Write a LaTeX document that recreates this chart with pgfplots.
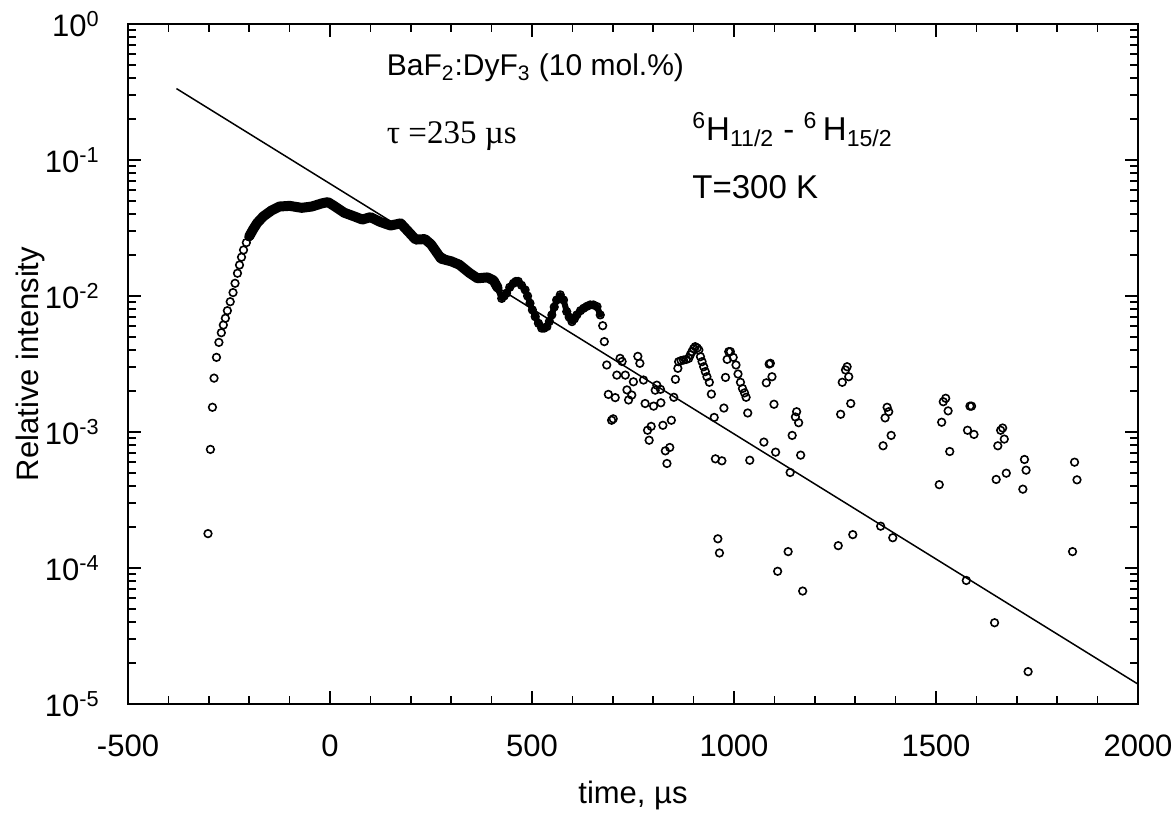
\documentclass[border=0pt]{standalone}
\usepackage{pgfplots}
\pgfplotsset{compat=1.18}
\usepackage{fontspec}
\setmainfont{Liberation Sans}
\newfontfamily\timesfont{Liberation Serif}

% rising edge, open circles
\pgfplotstableread{
x y
-302 1.79e-4
-296 7.45e-4
-291 1.52e-3
-287 2.49e-3
-281 3.54e-3
-275 4.56e-3
-269 5.37e-3
-264 6.12e-3
-259 6.86e-3
-254 7.8e-3
-247 9.08e-3
-240 1.06e-2
-235 1.24e-2
-229 1.47e-2
-224 1.69e-2
-219 1.93e-2
-214 2.18e-2
-207 2.47e-2
-200 2.74e-2
}\rising

% dense part, drawn as a solid band of overlapping circles
\pgfplotstableread{
x y
-200 2.74e-2
-190 3.1e-2
-180 3.45e-2
-165 3.85e-2
-145 4.25e-2
-125 4.55e-2
-100 4.6e-2
-70 4.45e-2
-45 4.55e-2
-20 4.8e-2
-5 4.9e-2
10 4.6e-2
35 4.1e-2
60 3.85e-2
80 3.65e-2
100 3.8e-2
125 3.5e-2
150 3.3e-2
175 3.42e-2
195 2.95e-2
212 2.6e-2
235 2.62e-2
250 2.4e-2
275 1.88e-2
300 1.8e-2
320 1.7e-2
345 1.48e-2
365 1.35e-2
390 1.37e-2
405 1.3e-2
415 1.15e-2
}\band

% oscillations after 415 us
\pgfplotstableread{
x y
415 1.15e-2
425 9.6e-3
431 1.0e-2
437 1.05e-2
445 1.16e-2
454 1.24e-2
460 1.28e-2
466 1.28e-2
474 1.2e-2
483 1.11e-2
489 1.0e-2
495 8.85e-3
501 7.9e-3
508 7.05e-3
516 6.3e-3
524 5.8e-3
530 5.8e-3
537 5.96e-3
543 6.5e-3
549 7.26e-3
555 8.3e-3
561 9.35e-3
570 1.02e-2
578 9.35e-3
586 7.68e-3
592 7.0e-3
599 6.48e-3
605 6.8e-3
611 7.26e-3
620 7.8e-3
628 8.13e-3
636 8.4e-3
644 8.6e-3
652 8.6e-3
661 8.36e-3
669 7.26e-3
}\wave

% scattered tail
\pgfplotstableread{
x y
675 6.05e-3
679 4.62e-3
685 3.11e-3
689 1.89e-3
697 1.22e-3
701 1.25e-3
706 1.79e-3
710 2.62e-3
718 3.48e-3
723 3.3e-3
731 2.62e-3
735 2.04e-3
739 1.72e-3
747 1.87e-3
751 2.34e-3
762 3.6e-3
767 3.2e-3
776 2.41e-3
780 1.62e-3
786 1.03e-3
790 8.7e-4
795 1.1e-3
801 1.55e-3
805 2.03e-3
809 2.21e-3
818 2.06e-3
819 1.64e-3
824 1.12e-3
830 7.27e-4
834 5.87e-4
841 7.7e-4
845 1.22e-3
851 1.8e-3
855 2.44e-3
861 2.94e-3
863 3.29e-3
869 3.35e-3
875 3.38e-3
882 3.42e-3
888 3.48e-3
892 3.7e-3
896 3.9e-3
900 4.1e-3
904 4.24e-3
909 4.15e-3
913 4.01e-3
917 3.58e-3
921 3.29e-3
925 3.02e-3
929 2.78e-3
933 2.55e-3
939 2.32e-3
944 1.9e-3
951 1.28e-3
954 6.35e-4
960 1.64e-4
964 1.29e-4
970 6.14e-4
975 1.5e-3
979 2.52e-3
983 3.42e-3
987 3.9e-3
991 3.9e-3
998 3.54e-3
1005 3.11e-3
1010 2.67e-3
1016 2.32e-3
1021 2.09e-3
1026 1.94e-3
1030 1.8e-3
1034 1.38e-3
1039 6.2e-4
1074 8.43e-4
1080 2.3e-3
1087 3.16e-3
1090 3.2e-3
1094 2.55e-3
1099 1.6e-3
1103 7.11e-4
1108 9.46e-5
1134 1.32e-4
1139 5.04e-4
1144 9.44e-4
1152 1.29e-3
1155 1.41e-3
1160 1.17e-3
1165 6.76e-4
1170 6.77e-5
1258 1.46e-4
1264 1.35e-3
1268 2.32e-3
1276 2.86e-3
1280 3.02e-3
1284 2.55e-3
1289 1.62e-3
1294 1.76e-4
1363 2.03e-4
1369 7.92e-4
1374 1.27e-3
1379 1.52e-3
1383 1.41e-3
1389 9.44e-4
1393 1.67e-4
1508 4.1e-4
1514 1.18e-3
1518 1.67e-3
1524 1.77e-3
1530 1.43e-3
1534 7.19e-4
1575 8.1e-5
1578 1.03e-3
1584 1.55e-3
1588 1.55e-3
1594 9.6e-4
1645 3.96e-5
1649 4.48e-4
1653 7.92e-4
1660 1.03e-3
1665 1.07e-3
1669 8.87e-4
1674 4.98e-4
1715 3.8e-4
1719 6.28e-4
1723 5.24e-4
1728 1.73e-5
1838 1.32e-4
1843 6.0e-4
1849 4.45e-4
}\tail

\begin{document}
\fontsize{15}{18}\selectfont
\begin{tikzpicture}
\begin{axis}[
  at={(0pt,0pt)}, anchor=south west,
  scale only axis,
  width=505pt, height=340pt,
  xmin=-500, xmax=2000,
  ymode=log, ymin=1e-5, ymax=1,
  xtick={-500,0,500,1000,1500,2000},
  xticklabels={-500,0,500,1000,1500,2000},
  minor x tick num=4,
  ytick={1e-5,1e-4,1e-3,1e-2,1e-1,1},
  yticklabels={10\textsuperscript{-5},10\textsuperscript{-4},10\textsuperscript{-3},10\textsuperscript{-2},10\textsuperscript{-1},10\textsuperscript{0}},
  tick align=inside,
  major tick length=6.5pt,
  minor tick length=4pt,
  every tick/.style={black, line width=0.75pt},
  axis line style={line width=0.9pt},
  tick label style={font=\fontsize{15.5}{18}\selectfont},
  xticklabel style={yshift=-10pt},
  yticklabel style={xshift=-9pt},
  xlabel={time, µs},
  ylabel={Relative intensity},
  label style={font=\fontsize{15.5}{18}\selectfont},
  xlabel style={at={(axis description cs:0.5,-0.134)}, anchor=center},
  ylabel style={at={(axis description cs:-0.097,0.5)}, anchor=center},
  clip=false,
]
\addplot[black, line width=0.75pt] coordinates {(-380,0.335) (2000,1.4e-5)};
\addplot[only marks, mark=o, mark size=1.9pt, mark options={line width=0.8pt, black}] table {\rising};
\addplot[black, line width=5pt, line join=round, line cap=round] table {\band};
\addplot[black, line width=3pt, line join=round, line cap=round, mark=o, mark size=1.9pt, mark options={line width=0.8pt, black}] table {\wave};
\addplot[only marks, mark=o, mark size=1.9pt, mark options={line width=0.8pt, black}] table {\tail};

\node[anchor=base west, inner sep=0pt, font=\fontsize{15}{18}\selectfont] at (axis cs:140,0.415) {BaF\textsubscript{2}:DyF\textsubscript{3} (10 mol.\%)};
\node[anchor=base west, inner sep=0pt, font=\fontsize{16.5}{19}\selectfont\timesfont] at (axis cs:140,0.133) {τ =235 µs};
\node[anchor=base west, inner sep=0pt, font=\fontsize{16.5}{19}\selectfont] at (axis cs:896,0.138) {\textsuperscript{6}H\textsubscript{11/2} - \textsuperscript{6}\,H\textsubscript{15/2}};
\node[anchor=base west, inner sep=0pt, font=\fontsize{16.5}{19}\selectfont] at (axis cs:896,0.0525) {T=300 K};
\end{axis}
\pgfresetboundingbox
\path[use as bounding box] (-64pt,-55pt) rectangle (523pt,352pt);
\end{tikzpicture}
\end{document}
